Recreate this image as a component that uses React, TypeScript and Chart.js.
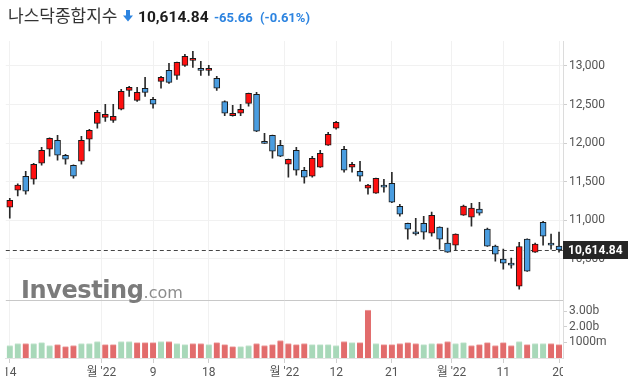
import React, { useEffect, useRef } from 'react';
import { Chart, registerables } from 'chart.js';

Chart.register(...registerables);

// ---- data ----
const dates = [
  '2022-07-14', '2022-07-15', '2022-07-18', '2022-07-19', '2022-07-20', '2022-07-21', '2022-07-22',
  '2022-07-25', '2022-07-26', '2022-07-27', '2022-07-28', '2022-07-29',
  '2022-08-01', '2022-08-02', '2022-08-03', '2022-08-04', '2022-08-05', '2022-08-08', '2022-08-09',
  '2022-08-10', '2022-08-11', '2022-08-12', '2022-08-15', '2022-08-16', '2022-08-17', '2022-08-18',
  '2022-08-19', '2022-08-22', '2022-08-23', '2022-08-24', '2022-08-25', '2022-08-26', '2022-08-29',
  '2022-08-30', '2022-08-31',
  '2022-09-01', '2022-09-02', '2022-09-06', '2022-09-07', '2022-09-08', '2022-09-09', '2022-09-12',
  '2022-09-13', '2022-09-14', '2022-09-15', '2022-09-16', '2022-09-19', '2022-09-20', '2022-09-21',
  '2022-09-22', '2022-09-23', '2022-09-26', '2022-09-27', '2022-09-28', '2022-09-29', '2022-09-30',
  '2022-10-03', '2022-10-04', '2022-10-05', '2022-10-06', '2022-10-07', '2022-10-10', '2022-10-11',
  '2022-10-12', '2022-10-13', '2022-10-14', '2022-10-17', '2022-10-18', '2022-10-19', '2022-10-20',
];

const openPrices = [
  11169, 11390, 11571, 11532, 11739, 11921, 12037, 11843, 11713, 11765, 12050, 12257,
  12335, 12296, 12439, 12685, 12555, 12711, 12568, 12801, 12944, 12879, 13009, 13073, 12970, 12944,
  12840, 12538, 12357, 12387, 12516, 12633, 12024, 12102, 11973,
  11726, 11908, 11649, 11571, 11688, 11973, 12193, 11921, 11688, 11636, 11416, 11351, 11455, 11480,
  11182, 10962, 10850, 10962, 10833, 10911, 10704,
  10678, 11066, 11040, 11144, 10885, 10665, 10496, 10444, 10146, 10755, 10587, 10975, 10704, 10665,
];
const highPrices = [
  11286, 11472, 11636, 11740, 11947, 12070, 12102, 11856, 11720, 12089, 12180, 12426,
  12504, 12504, 12698, 12737, 12724, 12853, 12594, 12866, 13035, 13050, 13151, 13190, 13060, 13009,
  12866, 12547, 12491, 12504, 12650, 12659, 12128, 12105, 12037,
  11795, 11947, 11688, 11830, 11908, 12141, 12283, 11960, 11752, 11765, 11467, 11548, 11532, 11623,
  11208, 10965, 11027, 11053, 11105, 10915, 10898,
  10825, 11196, 11221, 11234, 10898, 10678, 10626, 10509, 10716, 10760, 10704, 10988, 10820, 10846,
];
const lowPrices = [
  11027, 11316, 11338, 11467, 11713, 11830, 11778, 11726, 11545, 11726, 11899, 12193,
  12283, 12270, 12430, 12607, 12542, 12607, 12452, 12711, 12775, 12827, 12996, 12983, 12879, 12879,
  12685, 12357, 12350, 12357, 12478, 12150, 11995, 11804, 11825,
  11558, 11584, 11480, 11558, 11685, 11970, 12180, 11623, 11623, 11506, 11338, 11348, 11364, 11230,
  11053, 10755, 10807, 10755, 10794, 10626, 10584,
  10613, 11063, 10924, 11066, 10660, 10470, 10367, 10380, 10108, 10336, 10584, 10678, 10626, 10587,
];
const closePrices = [
  11260, 11455, 11377, 11726, 11908, 12063, 11843, 11791, 11571, 12037, 12167, 12400,
  12374, 12348, 12672, 12724, 12659, 12659, 12504, 12853, 12788, 13047, 13125, 13099, 12944, 12970,
  12711, 12387, 12387, 12439, 12646, 12154, 11998, 11895, 11830,
  11791, 11649, 11558, 11804, 11869, 12115, 12270, 11649, 11727, 11571, 11455, 11545, 11429, 11234,
  11079, 10885, 10824, 10846, 11066, 10755, 10587,
  10820, 11183, 11157, 11092, 10665, 10561, 10444, 10418, 10660, 10341, 10691, 10794, 10678, 10614.84,
];

// volume in billions
const volumesB = [
  0.80, 0.93, 0.93, 0.93, 0.99, 0.80, 0.86, 0.73, 0.80, 0.93, 0.93, 1.06,
  0.86, 0.86, 1.06, 1.06, 0.99, 0.99, 0.99, 1.06, 1.06, 0.93, 0.86, 0.93, 0.93, 0.86,
  0.99, 0.86, 0.73, 0.73, 0.80, 0.93, 0.80, 0.86, 1.12,
  0.93, 0.86, 0.93, 0.86, 0.86, 0.86, 0.80, 1.06, 0.99, 0.99, 3.08, 0.93, 0.86, 0.86,
  0.93, 0.99, 0.93, 0.86, 0.93, 0.93, 1.06,
  0.93, 0.99, 0.80, 0.86, 0.99, 0.80, 0.99, 0.80, 1.06, 0.86, 0.93, 0.93, 0.93, 0.86,
];
const volumeUp = [
  1, 1, 0, 1, 1, 1, 0, 0, 0, 1, 1, 1,
  0, 0, 1, 1, 0, 0, 0, 1, 0, 1, 1, 0, 0, 1,
  0, 0, 0, 1, 1, 0, 0, 0, 0,
  0, 0, 0, 1, 1, 1, 1, 0, 1, 0, 0, 1, 0, 0,
  0, 0, 0, 1, 1, 0, 0,
  1, 1, 0, 0, 0, 0, 0, 0, 1, 0, 1, 1, 0, 0,
];

const priceTicks = [10500, 11000, 11500, 12000, 12500, 13000];
const volumeTicksB = [1, 2, 3];
const volumeTickLabels = ['1000m', '2.00b', '3.00b'];
const xTickKeys = ['2022-07-14', '2022-08', '2022-08-09', '2022-08-18', '2022-09', '2022-09-12', '2022-09-21', '2022-10', '2022-10-11', '2022-10-20'];
const xTickLabels = ['14', "월 '22", '9', '18', "월 '22", '12', '21', "월 '22", '11', '20'];

const priceMin = 9967;
const priceMax = 13324;
const volumeMaxB = 3.72;

const titleName = '나스닥종합지수';
const titlePrice = '10,614.84';
const titleChange = '-65.66';
const titlePct = '(-0.61%)';

const UP_COLOR = '#ff1010';
const DOWN_COLOR = '#4a9de0';

const FONT = "Roboto, 'Noto Sans CJK KR', sans-serif";

export default function App() {
  const canvasRef = useRef<HTMLCanvasElement | null>(null);

  useEffect(() => {
    const canvas = canvasRef.current;
    if (!canvas) return;

    const xTickPositions = xTickKeys.map((k) =>
      k.length === 10 ? dates.indexOf(k) : dates.findIndex((d) => d.startsWith(k)) - 0.5
    );
    const lastClose = closePrices[closePrices.length - 1];

    const overlayPlugin = {
      id: 'overlay',
      beforeDraw(chart: any) {
        const xs = chart.scales.x;
        if (xs && !xs._clipPatched) {
          const orig = xs.drawLabels;
          xs.drawLabels = function (area: any) {
            const ctx = this.ctx;
            const ca = chart.chartArea;
            ctx.save();
            ctx.beginPath();
            ctx.rect(ca.left, 0, ca.right - ca.left, chart.height);
            ctx.clip();
            orig.call(this, area);
            ctx.restore();
          };
          xs._clipPatched = true;
        }
      },
      beforeDatasetsDraw(chart: any) {
        const { ctx, chartArea } = chart;
        const ys = chart.scales.y;
        ctx.save();
        ctx.strokeStyle = '#c8c8c8';
        ctx.lineWidth = 1;
        ctx.beginPath();
        const sy = Math.round(ys.bottom) + 0.5;
        ctx.moveTo(chartArea.left, sy);
        ctx.lineTo(chartArea.right, sy);
        ctx.stroke();
        const py = Math.round(ys.getPixelForValue(lastClose)) + 0.5;
        ctx.strokeStyle = '#444';
        ctx.setLineDash([4, 3]);
        ctx.beginPath();
        ctx.moveTo(chartArea.left, py);
        ctx.lineTo(chartArea.right, py);
        ctx.stroke();
        ctx.restore();
      },
      afterDraw(chart: any) {
        const { ctx, chartArea } = chart;
        const ys = chart.scales.y;
        const py = ys.getPixelForValue(lastClose);
        ctx.save();
        ctx.fillStyle = '#262626';
        ctx.fillRect(Math.round(chartArea.right), Math.round(py - 9), chart.width - Math.round(chartArea.right), 18);
        ctx.fillStyle = '#ffffff';
        ctx.font = `bold 12px ${FONT}`;
        ctx.textBaseline = 'middle';
        ctx.textAlign = 'left';
        ctx.fillText(
          lastClose.toLocaleString('en-US', { minimumFractionDigits: 2, maximumFractionDigits: 2 }),
          Math.round(chartArea.right) + 5,
          Math.round(py) + 0.5
        );
        ctx.restore();
      },
    };

    const chart = new Chart(canvas, {
      type: 'bar',
      data: {
        datasets: [
          {
            label: 'body',
            data: dates.map((_, i) => ({ x: i, y: [openPrices[i], closePrices[i]] })) as any,
            yAxisID: 'y',
            backgroundColor: dates.map((_, i) => (closePrices[i] >= openPrices[i] ? UP_COLOR : DOWN_COLOR)),
            borderColor: '#1a1a1a',
            borderWidth: 1,
            borderSkipped: false,
            barThickness: 6,
            grouped: false,
            order: 1,
          } as any,
          {
            label: 'wick',
            data: dates.map((_, i) => ({ x: i, y: [lowPrices[i], highPrices[i]] })) as any,
            yAxisID: 'y',
            backgroundColor: '#2a2a2a',
            borderWidth: 0,
            barThickness: 1,
            grouped: false,
            order: 2,
          } as any,
          {
            label: 'volume',
            data: dates.map((_, i) => ({ x: i, y: volumesB[i] })) as any,
            yAxisID: 'yv',
            backgroundColor: dates.map((_, i) => (volumeUp[i] ? '#a8d8b9' : '#e26c6c')),
            borderColor: dates.map((_, i) => (volumeUp[i] ? '#c6e6d1' : '#f0a4a4')),
            borderWidth: { top: 1, left: 0, right: 0, bottom: 0 },
            borderSkipped: false,
            barThickness: 6,
            grouped: false,
            order: 3,
          } as any,
        ],
      },
      options: {
        animation: false,
        responsive: false,
        maintainAspectRatio: false,
        events: [],
        layout: { padding: { left: 5.5, top: 41, right: 0, bottom: 0 } },
        plugins: { legend: { display: false }, tooltip: { enabled: false } },
        font: { family: FONT },
        scales: {
          x: {
            type: 'linear',
            offset: false,
            min: -0.5,
            max: dates.length - 0.5,
            grid: { offset: false, color: '#f1f1f1', tickLength: 5, tickColor: '#cfcfcf' },
            border: { color: '#e2e2e2' },
            ticks: {
              autoSkip: false,
              maxRotation: 0,
              color: '#555',
              padding: 3,
              font: { size: 12, family: FONT },
              callback: (_v: any, idx: number) => xTickLabels[idx],
            },
            afterBuildTicks: (s: any) => {
              s.ticks = xTickPositions.map((v) => ({ value: v }));
            },
            afterFit: (s: any) => {
              s.height = 26;
            },
          },
          y: {
            type: 'linear',
            position: 'right',
            stack: 'panes',
            stackWeight: 259,
            min: priceMin,
            max: priceMax,
            grid: { color: '#f1f1f1', tickLength: 4, tickColor: '#cfcfcf' },
            border: { color: '#dcdcdc' },
            ticks: {
              autoSkip: false,
              color: '#555',
              padding: 2,
              font: { size: 12, family: FONT },
              callback: (v: any) => Number(v).toLocaleString('en-US'),
            },
            afterBuildTicks: (s: any) => {
              s.ticks = priceTicks.map((v) => ({ value: v }));
            },
            afterFit: (s: any) => {
              s.width = 65;
            },
          },
          yv: {
            type: 'linear',
            position: 'right',
            stack: 'panes',
            stackWeight: 58,
            min: 0,
            max: volumeMaxB,
            grid: { drawOnChartArea: false, tickLength: 4, tickColor: '#cfcfcf' },
            border: { color: '#dcdcdc' },
            ticks: {
              autoSkip: false,
              color: '#555',
              padding: 2,
              font: { size: 12, family: FONT },
              callback: (_v: any, idx: number) => volumeTickLabels[idx],
            },
            afterBuildTicks: (s: any) => {
              s.ticks = volumeTicksB.map((v) => ({ value: v }));
            },
            afterFit: (s: any) => {
              s.width = 65;
            },
          },
        },
      } as any,
      plugins: [overlayPlugin],
    });

    return () => chart.destroy();
  }, []);

  const titleStyle = { position: 'absolute' as const, top: 6, lineHeight: '22px', whiteSpace: 'nowrap' as const };

  return (
    <div style={{ position: 'fixed', left: 0, top: 0, width: 628, height: 384, background: '#fff', overflow: 'hidden' }}>
      <canvas ref={canvasRef} width={628} height={384} style={{ position: 'absolute', left: 0, top: 0, width: 628, height: 384 }} />
      <span style={{ ...titleStyle, left: 8, top: 4, fontFamily: "'Noto Sans CJK KR', sans-serif", fontSize: 17, color: '#333' }}>{titleName}</span>
      <svg width="10" height="12" viewBox="0 0 10 12" style={{ position: 'absolute', left: 123, top: 10 }}>
        <rect x="3" y="0" width="4" height="6" fill="#2d84e0" />
        <polygon points="0,5.5 10,5.5 5,11.5" fill="#2d84e0" />
      </svg>
      <span style={{ ...titleStyle, left: 138, fontFamily: FONT, fontSize: 15.5, fontWeight: 700, color: '#1c1c1c' }}>{titlePrice}</span>
      <span style={{ ...titleStyle, left: 214, top: 7, fontFamily: FONT, fontSize: 13, fontWeight: 700, color: '#2d84e0' }}>{titleChange}</span>
      <span style={{ ...titleStyle, left: 260, top: 7, fontFamily: FONT, fontSize: 13, fontWeight: 700, color: '#2d84e0' }}>{titlePct}</span>
      <div style={{ position: 'absolute', left: 21, top: 276, whiteSpace: 'nowrap', pointerEvents: 'none', display: 'flex', alignItems: 'baseline' }}>
        <span style={{ fontFamily: "'DejaVu Sans', sans-serif", fontWeight: 700, fontSize: 24, color: '#7b7b7b', letterSpacing: -0.4 }}>Investing</span>
        <span style={{ fontFamily: "'DejaVu Sans', sans-serif", fontSize: 16, color: '#8c8c8c' }}>.com</span>
      </div>
    </div>
  );
}
